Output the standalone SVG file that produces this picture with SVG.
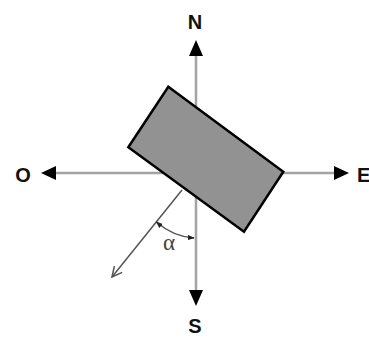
<svg xmlns="http://www.w3.org/2000/svg" width="369" height="338" viewBox="0 0 369 338">
<style>
.axis{stroke:#a3a3a3;stroke-width:2.5;fill:none}
.lbl{font-family:"Liberation Sans",Arial,sans-serif;font-weight:bold;font-size:20px;fill:#111}
.head{fill:#000}
.diag{stroke:#555;stroke-width:1.5;fill:none}
</style>
<defs>
<marker id="open" viewBox="0 0 12 12" refX="11" refY="6" markerWidth="12" markerHeight="12" markerUnits="userSpaceOnUse" orient="auto">
<path d="M1,1 L11,6 L1,11" fill="none" stroke="#555" stroke-width="1.5"/>
</marker>
<marker id="small" viewBox="0 0 8 8" refX="7" refY="4" markerWidth="7" markerHeight="7" markerUnits="userSpaceOnUse" orient="auto-start-reverse">
<path d="M0,1 L8,4 L0,7 Z" fill="#222"/>
</marker>
</defs>
<g id="connectors">
<line class="axis" x1="196" y1="54" x2="196" y2="292"/>
<line class="axis" x1="54" y1="173" x2="336" y2="173"/>
<path class="head" d="M196,40 L189,56 L203,56 Z"/>
<path class="head" d="M196,306 L189,290 L203,290 Z"/>
<path class="head" d="M41,173 L56,166 L56,180 Z"/>
<path class="head" d="M349,173 L334,166 L334,180 Z"/>
<line class="diag" x1="182" y1="190" x2="112" y2="277" marker-end="url(#open)"/>
<path class="diag" d="M156.5,222 A64,64 0 0 0 194,238" marker-start="url(#small)" marker-end="url(#small)"/>
</g>
<g id="building">
<polygon points="168.3,86.7 283.3,171.7 244,231.7 128.3,147.3" fill="#929292" stroke="#000" stroke-width="2.5" stroke-linejoin="miter"/>
</g>
<g id="label-N"><text class="lbl" x="195" y="29" text-anchor="middle">N</text></g>
<g id="label-S"><text class="lbl" x="195" y="333" text-anchor="middle">S</text></g>
<g id="label-O"><text class="lbl" x="23" y="182" text-anchor="middle">O</text></g>
<g id="label-E"><text class="lbl" x="357" y="182">E</text></g>
<g id="label-alpha"><text x="169" y="250" text-anchor="middle" font-family="Liberation Serif,'Times New Roman',serif" font-size="23" fill="#444">α</text></g>
</svg>
